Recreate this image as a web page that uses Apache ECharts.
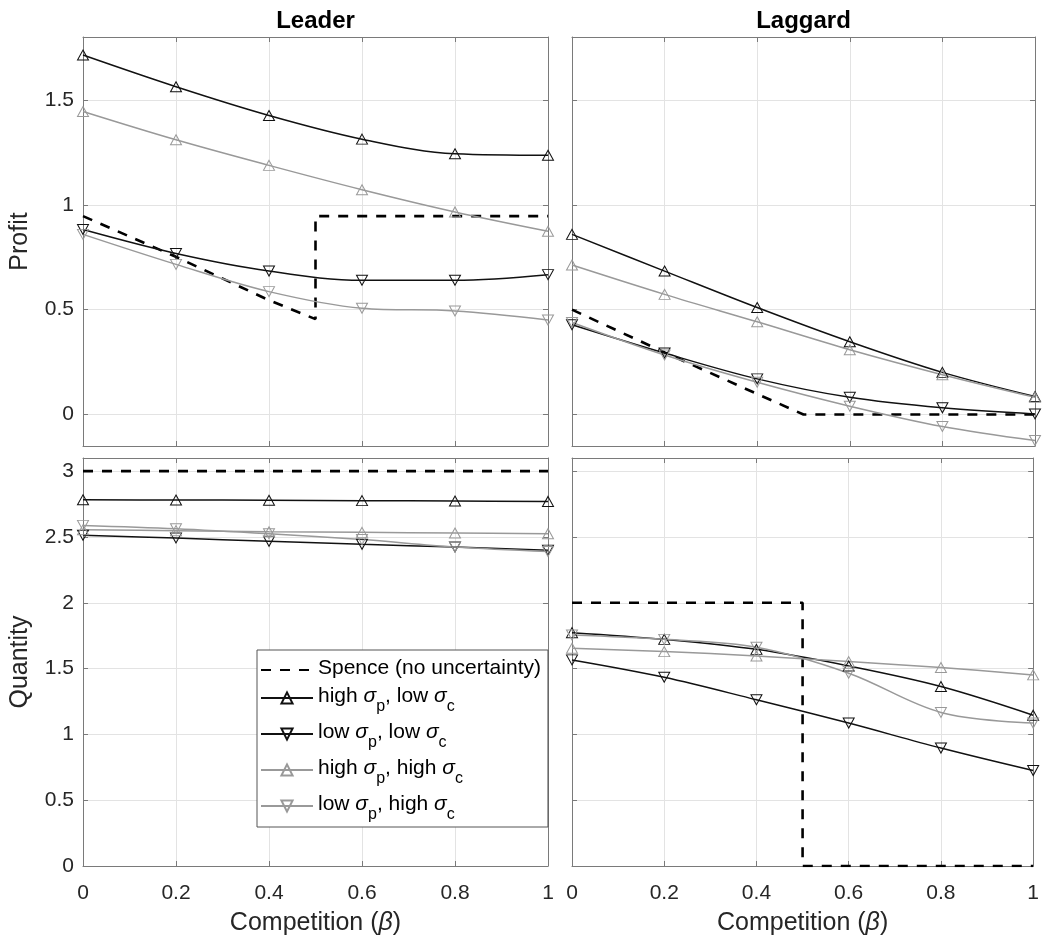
<!DOCTYPE html>
<html><head><meta charset="utf-8">
<script src="https://cdn.jsdelivr.net/npm/echarts@6/dist/echarts.min.js"></script>
<style>html,body{margin:0;padding:0;background:#fff}#c{width:1042px;height:943px}</style>
</head><body><div id="c"></div>
<script>
// ---------- data ----------
const betas = [0, 0.2, 0.4, 0.6, 0.8, 1];
const xTicks = [0, 0.2, 0.4, 0.6, 0.8, 1];
const profitTicks = [0, 0.5, 1, 1.5];
const quantityTicks = [0, 0.5, 1, 1.5, 2, 2.5, 3];
const panelTitles = ['Leader', 'Laggard'];
const seriesNames = ['Spence (no uncertainty)', 'high σp, low σc', 'low σp, low σc', 'high σp, high σc', 'low σp, high σc'];

// Leader profit
const leaderProfitHpLc = [1.714, 1.563, 1.426, 1.313, 1.243, 1.236];
const leaderProfitLpLc = [0.882, 0.768, 0.684, 0.640, 0.640, 0.667];
const leaderProfitHpHc = [1.445, 1.310, 1.188, 1.072, 0.966, 0.874];
const leaderProfitLpHc = [0.859, 0.716, 0.586, 0.507, 0.494, 0.451];
const spenceLeaderProfitX = [0, 0.2, 0.4, 0.5, 0.5, 1];
const spenceLeaderProfitY = [0.946, 0.752, 0.545, 0.455, 0.946, 0.946];
// Laggard profit
const laggardProfitHpLc = [0.859, 0.684, 0.510, 0.347, 0.201, 0.086];
const laggardProfitLpLc = [0.428, 0.293, 0.170, 0.082, 0.032, 0.003];
const laggardProfitHpHc = [0.713, 0.573, 0.442, 0.309, 0.190, 0.082];
const laggardProfitLpHc = [0.439, 0.284, 0.154, 0.040, -0.057, -0.124];
const spenceLaggardProfitX = [0, 0.2, 0.4, 0.5, 1];
const spenceLaggardProfitY = [0.5, 0.296, 0.098, 0, 0];
// Leader quantity
const leaderQuantityHpLc = [2.783, 2.781, 2.779, 2.776, 2.773, 2.770];
const leaderQuantityLpLc = [2.513, 2.492, 2.467, 2.444, 2.424, 2.400];
const leaderQuantityHpHc = [2.555, 2.548, 2.540, 2.535, 2.530, 2.525];
const leaderQuantityLpHc = [2.588, 2.563, 2.525, 2.480, 2.424, 2.390];
const spenceLeaderQuantityX = [0, 1];
const spenceLeaderQuantityY = [3, 3];
// Laggard quantity
const laggardQuantityHpLc = [1.773, 1.722, 1.646, 1.520, 1.364, 1.146];
const laggardQuantityLpLc = [1.566, 1.434, 1.263, 1.086, 0.896, 0.725];
const laggardQuantityHpHc = [1.654, 1.629, 1.596, 1.553, 1.508, 1.452];
const laggardQuantityLpHc = [1.755, 1.722, 1.662, 1.465, 1.167, 1.086];
const spenceLaggardQuantityX = [0, 0.5, 0.5, 1];
const spenceLaggardQuantityY = [2, 2, 0, 0];

// ---------- styling ----------
const FONT = '"Liberation Sans", Arial, Helvetica, sans-serif';
const AXIS_COLOR = '#7a7a7a';
const GRID_COLOR = '#e3e3e3';
const LABEL_COLOR = '#262626';
const BLACK = '#111111';
const GRAY = '#999999';

const grids = [
  {left: 83, top: 37, width: 465, height: 409},
  {left: 572, top: 37, width: 463, height: 409},
  {left: 83, top: 458, width: 465, height: 408},
  {left: 572, top: 458, width: 463, height: 408}
];

const xAxes = [], yAxes = [];
function axisLineCfg() { return {show: true, onZero: false, lineStyle: {color: AXIS_COLOR, width: 1}}; }
function addAxes(g, ymin, ymax, yticks, showXLabel, showYLabel, yName) {
  xAxes.push({
    type: 'value', gridIndex: g, position: 'bottom', min: 0, max: 1,
    axisLine: axisLineCfg(),
    axisTick: {show: true, inside: true, length: 5, customValues: xTicks, lineStyle: {color: AXIS_COLOR}},
    axisLabel: {show: showXLabel, customValues: xTicks, margin: 17, fontSize: 21, color: LABEL_COLOR, fontFamily: FONT},
    splitLine: {show: true, lineStyle: {color: GRID_COLOR, width: 1}},
    name: showXLabel ? 'Competition ({b|β})' : '', nameLocation: 'middle', nameGap: 45,
    nameTextStyle: {fontSize: 25, color: LABEL_COLOR, fontFamily: FONT,
      rich: {b: {fontSize: 25, fontStyle: 'italic', fontFamily: FONT, color: LABEL_COLOR}}}
  });
  xAxes.push({
    type: 'value', gridIndex: g, position: 'top', min: 0, max: 1,
    axisLine: axisLineCfg(),
    axisTick: {show: true, inside: true, length: 5, customValues: xTicks, lineStyle: {color: AXIS_COLOR}},
    axisLabel: {show: false, customValues: xTicks}, splitLine: {show: false}
  });
  yAxes.push({
    type: 'value', gridIndex: g, position: 'left', min: ymin, max: ymax,
    axisLine: axisLineCfg(),
    axisTick: {show: true, inside: true, length: 5, customValues: yticks, lineStyle: {color: AXIS_COLOR}},
    axisLabel: {show: showYLabel, customValues: yticks, margin: 9, fontSize: 21, color: LABEL_COLOR, fontFamily: FONT},
    splitLine: {show: true, lineStyle: {color: GRID_COLOR, width: 1}},
    name: yName, nameLocation: 'middle', nameGap: 50,
    nameTextStyle: {fontSize: 25, color: LABEL_COLOR, fontFamily: FONT}
  });
  yAxes.push({
    type: 'value', gridIndex: g, position: 'right', min: ymin, max: ymax,
    axisLine: axisLineCfg(),
    axisTick: {show: true, inside: true, length: 5, customValues: yticks, lineStyle: {color: AXIS_COLOR}},
    axisLabel: {show: false, customValues: yticks}, splitLine: {show: false}
  });
}
addAxes(0, -0.15, 1.8, profitTicks, false, true, 'Profit');
addAxes(1, -0.15, 1.8, profitTicks, false, false, '');
addAxes(2, 0, 3.1, quantityTicks, true, true, 'Quantity');
addAxes(3, 0, 3.1, quantityTicks, true, false, '');

function pairs(xs, ys) { return xs.map((x, i) => [x, ys[i]]); }
function spence(g, xs, ys) {
  return {type: 'line', name: seriesNames[0], xAxisIndex: 2 * g, yAxisIndex: 2 * g,
    data: pairs(xs, ys), symbol: 'none', smooth: false,
    lineStyle: {color: '#000', width: 2.6, type: [10, 9]},
    itemStyle: {color: 'rgba(0,0,0,0)', borderWidth: 0, opacity: 0},
    emphasis: {disabled: true}, z: 2};
}
function curve(g, nameIdx, ys, color, rot) {
  return {type: 'line', name: seriesNames[nameIdx], xAxisIndex: 2 * g, yAxisIndex: 2 * g,
    data: pairs(betas, ys), smooth: 0.35, symbol: 'triangle', symbolSize: [11, 10], symbolRotate: rot,
    lineStyle: {color: color, width: 1.5},
    itemStyle: {color: 'rgba(255,255,255,0)', borderColor: color, borderWidth: 1},
    emphasis: {disabled: true}, z: 3};
}
const panels = [
  [spenceLeaderProfitX, spenceLeaderProfitY, leaderProfitHpLc, leaderProfitLpLc, leaderProfitHpHc, leaderProfitLpHc],
  [spenceLaggardProfitX, spenceLaggardProfitY, laggardProfitHpLc, laggardProfitLpLc, laggardProfitHpHc, laggardProfitLpHc],
  [spenceLeaderQuantityX, spenceLeaderQuantityY, leaderQuantityHpLc, leaderQuantityLpLc, leaderQuantityHpHc, leaderQuantityLpHc],
  [spenceLaggardQuantityX, spenceLaggardQuantityY, laggardQuantityHpLc, laggardQuantityLpLc, laggardQuantityHpHc, laggardQuantityLpHc]
];
const series = [];
panels.forEach((p, g) => {
  series.push(spence(g, p[0], p[1]));
  series.push(curve(g, 1, p[2], BLACK, 0));
  series.push(curve(g, 2, p[3], BLACK, 180));
  series.push(curve(g, 3, p[4], GRAY, 0));
  series.push(curve(g, 4, p[5], GRAY, 180));
});

const legendRich = {};
legendRich[seriesNames[0]] = '{t|Spence (no uncertainty)}';
legendRich[seriesNames[1]] = '{t|high }{g|σ}{s|p}{t|, low }{g|σ}{s|c}';
legendRich[seriesNames[2]] = '{t|low }{g|σ}{s|p}{t|, low }{g|σ}{s|c}';
legendRich[seriesNames[3]] = '{t|high }{g|σ}{s|p}{t|, high }{g|σ}{s|c}';
legendRich[seriesNames[4]] = '{t|low }{g|σ}{s|p}{t|, high }{g|σ}{s|c}';

const legendData = seriesNames.map((n, i) => i === 0
  ? {name: n, itemStyle: {opacity: 0}}
  : {name: n});

const option = {
  animation: false,
  textStyle: {fontFamily: FONT},
  grid: grids,
  xAxis: xAxes,
  yAxis: yAxes,
  series: series,
  legend: {
    left: 257, top: 650, orient: 'vertical', padding: [8, 7, 4, 3], itemGap: 7,
    itemWidth: 52, itemHeight: 14, backgroundColor: '#fff', borderColor: '#555', borderWidth: 1,
    selectedMode: false, data: legendData,
    formatter: n => legendRich[n],
    textStyle: {fontSize: 21, color: '#000', fontFamily: FONT, rich: {
      t: {fontSize: 21, lineHeight: 24, verticalAlign: 'top', fontFamily: FONT, color: '#000'},
      g: {fontSize: 21, lineHeight: 24, verticalAlign: 'top', fontStyle: 'italic', fontFamily: FONT, color: '#000'},
      s: {fontSize: 16, lineHeight: 16, verticalAlign: 'top', padding: [13, 0, 0, 0], fontFamily: FONT, color: '#000'}
    }}
  },
  graphic: panelTitles.map((t, i) => ({
    type: 'text', x: grids[i].left + grids[i].width / 2, y: 21, silent: true,
    style: {text: t, fontSize: 24, fontWeight: 'bold', fontFamily: FONT, fill: '#000',
      align: 'center', verticalAlign: 'middle', textAlign: 'center', textVerticalAlign: 'middle'}
  }))
};
const chart = echarts.init(document.getElementById('c'), null, {renderer: 'canvas'});
chart.setOption(option);
</script></body></html>
